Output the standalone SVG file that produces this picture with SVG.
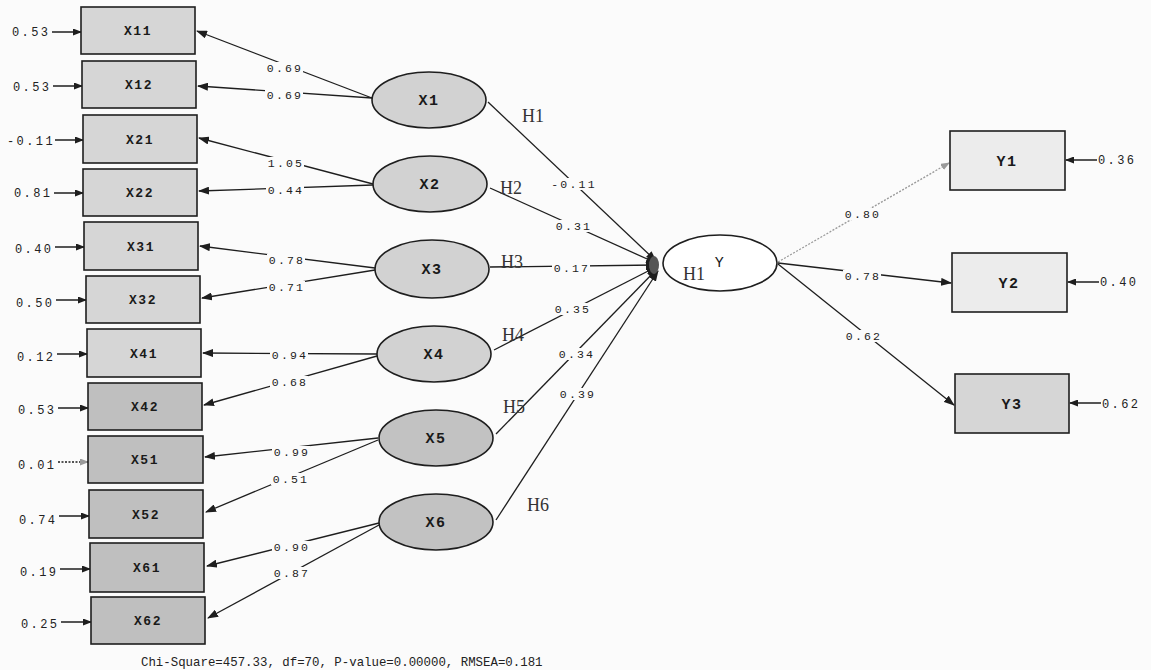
<svg xmlns="http://www.w3.org/2000/svg" width="1151" height="670" viewBox="0 0 1151 670">
  <style>
    .box { fill: #d6d6d6; stroke: #1e1e1e; stroke-width: 1.6; }
    .box.dk { fill: #bfbfbf; }
    .box.lt { fill: #ececec; }
    .lv { fill: #d2d2d2; stroke: #1e1e1e; stroke-width: 1.6; }
    .lv.dk { fill: #c2c2c2; }
    .lv.wh { fill: #ffffff; }
    .name { font-family: "Liberation Mono", monospace; font-weight: bold; font-size: 13px; letter-spacing: 1.5px; fill: #1a1a1a; text-anchor: middle; }
    .lvname { font-family: "Liberation Mono", monospace; font-weight: bold; font-size: 15px; letter-spacing: 1.5px; fill: #1a1a1a; text-anchor: middle; }
    .num { font-family: "Liberation Mono", monospace; font-size: 12px; letter-spacing: 2.4px; fill: #222; }
    .coef { font-family: "Liberation Mono", monospace; font-size: 11.5px; letter-spacing: 2.2px; fill: #222; text-anchor: middle; }
    .bg { fill: #fbfbfb; }
    .hyp { font-family: "Liberation Serif", serif; font-size: 18px; fill: #333; }
    .path { stroke: #1e1e1e; stroke-width: 1.3; fill: none; }
    .path.dot { stroke: #9a9a9a; stroke-dasharray: 2 1.5; }
    .err { stroke: #1e1e1e; stroke-width: 1.5; fill: none; }
    .fit { font-family: "Liberation Mono", monospace; font-size: 12.4px; fill: #222; }
  </style>
  <defs>
    <marker id="ah" markerUnits="userSpaceOnUse" markerWidth="11" markerHeight="8" refX="10" refY="4" orient="auto">
      <path d="M0,0 L11,4 L0,8 Z" fill="#1e1e1e"/>
    </marker>
    <marker id="ahs" markerUnits="userSpaceOnUse" markerWidth="9" markerHeight="7" refX="8" refY="3.5" orient="auto">
      <path d="M0,0 L9,3.5 L0,7 Z" fill="#1e1e1e"/>
    </marker>
    <marker id="ahsg" markerUnits="userSpaceOnUse" markerWidth="9" markerHeight="7" refX="8" refY="3.5" orient="auto">
      <path d="M0,0 L9,3.5 L0,7 Z" fill="#9a9a9a"/>
    </marker>
  </defs>

  <rect x="0" y="0" width="1151" height="670" fill="#fbfbfb"/>

  <!-- connectors: loadings, structural paths, error terms -->
  <g id="connectors">
    <!-- X1 -> X11, X12 -->
    <line class="path" x1="372" y1="98" x2="197" y2="31" marker-end="url(#ah)"/>
    <line class="path" x1="372" y1="98" x2="198" y2="86" marker-end="url(#ah)"/>
    <!-- X2 -> X21, X22 -->
    <line class="path" x1="373" y1="184" x2="199" y2="138" marker-end="url(#ah)"/>
    <line class="path" x1="373" y1="185" x2="199" y2="191" marker-end="url(#ah)"/>
    <!-- X3 -> X31, X32 -->
    <line class="path" x1="375" y1="268" x2="200" y2="246" marker-end="url(#ah)"/>
    <line class="path" x1="375" y1="270" x2="202" y2="298" marker-end="url(#ah)"/>
    <!-- X4 -> X41, X42 -->
    <line class="path" x1="377" y1="354" x2="203" y2="353" marker-end="url(#ah)"/>
    <line class="path" x1="377" y1="356" x2="204" y2="405" marker-end="url(#ah)"/>
    <!-- X5 -> X51, X52 -->
    <line class="path" x1="378" y1="438" x2="205" y2="457" marker-end="url(#ah)"/>
    <line class="path" x1="378" y1="440" x2="206" y2="512" marker-end="url(#ah)"/>
    <!-- X6 -> X61, X62 -->
    <line class="path" x1="379" y1="523" x2="207" y2="566" marker-end="url(#ah)"/>
    <line class="path" x1="379" y1="525" x2="208" y2="618" marker-end="url(#ah)"/>

    <!-- structural paths into Y -->
    <line class="path" x1="488" y1="102" x2="656" y2="261" marker-end="url(#ah)"/>
    <line class="path" x1="490" y1="188" x2="656" y2="263" marker-end="url(#ah)"/>
    <line class="path" x1="490" y1="267" x2="656" y2="265" marker-end="url(#ah)"/>
    <line class="path" x1="494" y1="350" x2="656" y2="267" marker-end="url(#ah)"/>
    <line class="path" x1="496" y1="434" x2="657" y2="269" marker-end="url(#ah)"/>
    <line class="path" x1="496" y1="520" x2="658" y2="271" marker-end="url(#ah)"/>
    <ellipse cx="654" cy="265" rx="5" ry="9" fill="#555"/>

    <!-- Y -> Y1, Y2, Y3 -->
    <line class="path dot" x1="778" y1="262" x2="949" y2="163" marker-end="url(#ahsg)"/>
    <line class="path" x1="778" y1="263" x2="951" y2="283" marker-end="url(#ah)"/>
    <line class="path" x1="778" y1="264" x2="954" y2="405" marker-end="url(#ah)"/>

    <!-- error terms, indicators of X -->
    <line class="err" x1="52" y1="32" x2="81" y2="32" marker-end="url(#ahs)"/>
    <line class="err" x1="53" y1="86" x2="82" y2="86" marker-end="url(#ahs)"/>
    <line class="err" x1="55" y1="140" x2="83" y2="140" marker-end="url(#ahs)"/>
    <line class="err" x1="54" y1="193" x2="83" y2="193" marker-end="url(#ahs)"/>
    <line class="err" x1="55" y1="247" x2="84" y2="247" marker-end="url(#ahs)"/>
    <line class="err" x1="56" y1="300" x2="86" y2="300" marker-end="url(#ahs)"/>
    <line class="err" x1="57" y1="354" x2="87" y2="354" marker-end="url(#ahs)"/>
    <line class="err" x1="58" y1="408" x2="88" y2="408" marker-end="url(#ahs)"/>
    <line class="err" x1="58" y1="462" x2="88" y2="462" stroke="#9a9a9a" stroke-dasharray="2 1.5" marker-end="url(#ahsg)"/>
    <line class="err" x1="59" y1="516" x2="89" y2="516" marker-end="url(#ahs)"/>
    <line class="err" x1="60" y1="569" x2="90" y2="569" marker-end="url(#ahs)"/>
    <line class="err" x1="61" y1="622" x2="91" y2="622" marker-end="url(#ahs)"/>

    <!-- error terms, indicators of Y -->
    <line class="err" x1="1097" y1="160" x2="1066" y2="160" marker-end="url(#ahs)"/>
    <line class="err" x1="1099" y1="282" x2="1068" y2="282" marker-end="url(#ahs)"/>
    <line class="err" x1="1101" y1="403" x2="1070" y2="403" marker-end="url(#ahs)"/>
  </g>

  <!-- path coefficients, each on a small backing patch that breaks its line -->
  <g id="coefficients">
    <rect class="bg" x="265" y="62" width="38" height="12"/><text class="coef" x="285" y="72">0.69</text>
    <rect class="bg" x="265" y="89" width="38" height="12"/><text class="coef" x="285" y="99">0.69</text>
    <rect class="bg" x="266" y="157" width="38" height="12"/><text class="coef" x="286" y="167">1.05</text>
    <rect class="bg" x="266" y="184" width="38" height="12"/><text class="coef" x="286" y="194">0.44</text>
    <rect class="bg" x="267" y="254" width="38" height="12"/><text class="coef" x="287" y="264">0.78</text>
    <rect class="bg" x="267" y="281" width="38" height="12"/><text class="coef" x="287" y="291">0.71</text>
    <rect class="bg" x="270" y="349" width="38" height="12"/><text class="coef" x="290" y="359">0.94</text>
    <rect class="bg" x="270" y="376" width="38" height="12"/><text class="coef" x="290" y="386">0.68</text>
    <rect class="bg" x="272" y="446" width="38" height="12"/><text class="coef" x="292" y="456">0.99</text>
    <rect class="bg" x="271" y="473" width="38" height="12"/><text class="coef" x="291" y="483">0.51</text>
    <rect class="bg" x="272" y="541" width="38" height="12"/><text class="coef" x="292" y="551">0.90</text>
    <rect class="bg" x="272" y="567" width="38" height="12"/><text class="coef" x="292" y="577">0.87</text>

    <rect class="bg" x="550" y="178" width="46" height="12"/><text class="coef" x="574" y="188">-0.11</text>
    <rect class="bg" x="554" y="220" width="38" height="12"/><text class="coef" x="574" y="230">0.31</text>
    <rect class="bg" x="552" y="262" width="38" height="12"/><text class="coef" x="572" y="272">0.17</text>
    <rect class="bg" x="553" y="303" width="38" height="12"/><text class="coef" x="573" y="313">0.35</text>
    <rect class="bg" x="557" y="348" width="38" height="12"/><text class="coef" x="577" y="358">0.34</text>
    <rect class="bg" x="558" y="388" width="38" height="12"/><text class="coef" x="578" y="398">0.39</text>

    <rect class="bg" x="843" y="208" width="38" height="12"/><text class="coef" x="863" y="218">0.80</text>
    <rect class="bg" x="843" y="270" width="38" height="12"/><text class="coef" x="863" y="280">0.78</text>
    <rect class="bg" x="844" y="330" width="38" height="12"/><text class="coef" x="864" y="340">0.62</text>
  </g>

  <!-- hypothesis labels -->
  <g id="hypotheses">
    <text class="hyp" x="522" y="122">H1</text>
    <text class="hyp" x="500" y="194">H2</text>
    <text class="hyp" x="501" y="268">H3</text>
    <text class="hyp" x="502" y="341">H4</text>
    <text class="hyp" x="503" y="413">H5</text>
    <text class="hyp" x="527" y="511">H6</text>
  </g>

  <!-- observed indicators of X -->
  <g id="X11"><rect class="box" x="81" y="7" width="114" height="47"/><text class="name" x="138" y="35">X11</text><text class="num" x="12" y="36">0.53</text></g>
  <g id="X12"><rect class="box" x="82" y="61" width="114" height="47"/><text class="name" x="139" y="89">X12</text><text class="num" x="13" y="91">0.53</text></g>
  <g id="X21"><rect class="box" x="83" y="115" width="114" height="48"/><text class="name" x="140" y="144">X21</text><text class="num" x="7" y="145">-0.11</text></g>
  <g id="X22"><rect class="box" x="83" y="169" width="114" height="47"/><text class="name" x="140" y="197">X22</text><text class="num" x="14" y="197">0.81</text></g>
  <g id="X31"><rect class="box" x="84" y="222" width="114" height="48"/><text class="name" x="141" y="251">X31</text><text class="num" x="15" y="253">0.40</text></g>
  <g id="X32"><rect class="box" x="86" y="276" width="114" height="47"/><text class="name" x="143" y="304">X32</text><text class="num" x="16" y="307">0.50</text></g>
  <g id="X41"><rect class="box" x="87" y="329" width="114" height="48"/><text class="name" x="144" y="358">X41</text><text class="num" x="17" y="361">0.12</text></g>
  <g id="X42"><rect class="box dk" x="88" y="383" width="114" height="47"/><text class="name" x="145" y="411">X42</text><text class="num" x="18" y="414">0.53</text></g>
  <g id="X51"><rect class="box dk" x="88" y="436" width="115" height="47"/><text class="name" x="145" y="464">X51</text><text class="num" x="18" y="469">0.01</text></g>
  <g id="X52"><rect class="box dk" x="89" y="490" width="114" height="48"/><text class="name" x="146" y="519">X52</text><text class="num" x="19" y="524">0.74</text></g>
  <g id="X61"><rect class="box dk" x="90" y="543" width="114" height="49"/><text class="name" x="147" y="572">X61</text><text class="num" x="20" y="576">0.19</text></g>
  <g id="X62"><rect class="box dk" x="91" y="597" width="114" height="47"/><text class="name" x="148" y="625">X62</text><text class="num" x="21" y="628">0.25</text></g>

  <!-- latent exogenous variables -->
  <g id="X1"><ellipse class="lv" cx="429" cy="100" rx="57" ry="28"/><text class="lvname" x="429" y="105">X1</text></g>
  <g id="X2"><ellipse class="lv" cx="430" cy="184" rx="57" ry="28"/><text class="lvname" x="430" y="189">X2</text></g>
  <g id="X3"><ellipse class="lv" cx="432" cy="269" rx="57" ry="29"/><text class="lvname" x="432" y="274">X3</text></g>
  <g id="X4"><ellipse class="lv" cx="434" cy="354" rx="57" ry="28"/><text class="lvname" x="434" y="359">X4</text></g>
  <g id="X5"><ellipse class="lv dk" cx="436" cy="438" rx="57" ry="28"/><text class="lvname" x="436" y="443">X5</text></g>
  <g id="X6"><ellipse class="lv dk" cx="436" cy="522" rx="57" ry="28"/><text class="lvname" x="436" y="527">X6</text></g>

  <!-- latent endogenous variable -->
  <g id="Y"><ellipse class="lv wh" cx="720" cy="263" rx="57" ry="28"/><text class="lvname" x="720" y="267" style="font-weight:normal">Y</text><text class="hyp" x="683" y="280">H1</text></g>

  <!-- observed indicators of Y -->
  <g id="Y1"><rect class="box lt" x="950" y="131" width="115" height="59"/><text class="lvname" x="1007" y="166">Y1</text><text class="num" x="1098" y="164">0.36</text></g>
  <g id="Y2"><rect class="box lt" x="952" y="253" width="115" height="59"/><text class="lvname" x="1009" y="288">Y2</text><text class="num" x="1100" y="286">0.40</text></g>
  <g id="Y3"><rect class="box" x="955" y="374" width="114" height="59"/><text class="lvname" x="1012" y="409">Y3</text><text class="num" x="1102" y="408">0.62</text></g>

  <!-- fit statistics -->
  <text class="fit" x="141" y="666">Chi-Square=457.33, df=70, P-value=0.00000, RMSEA=0.181</text>
</svg>
